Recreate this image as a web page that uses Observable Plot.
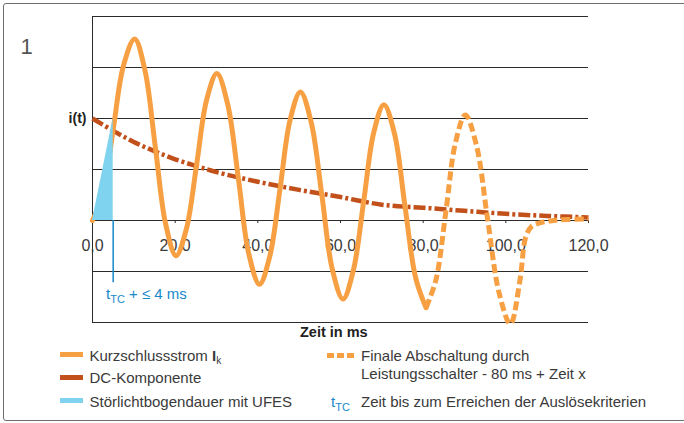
<!DOCTYPE html>
<html><head><meta charset="utf-8">
<script src="https://cdn.jsdelivr.net/npm/d3@7"></script>
<script src="https://cdn.jsdelivr.net/npm/@observablehq/plot@0.6"></script>
<style>
html,body{margin:0;padding:0;background:#fff;overflow:hidden;}
#wrap{position:relative;width:684px;height:423px;overflow:hidden;font-family:"Liberation Sans",Arial,sans-serif;color:#3a3a3a;}
#frame{position:absolute;left:3px;top:3px;width:760px;height:418px;border:1px solid #6e6e6e;border-radius:3px;box-sizing:border-box;}
#chart{position:absolute;left:0;top:0;}
.t{position:absolute;white-space:nowrap;line-height:1;font-size:15px;}
.sub{font-size:10px;position:relative;top:3px;}
.sub2{font-size:11px;position:relative;top:4px;}
.sw{position:absolute;height:5px;width:23px;left:60px;}
</style></head><body>
<div id="wrap">
<div id="frame"></div>
<div id="chart"></div>
<div class="t" style="left:20.6px;top:36.4px;font-size:22px;color:#555">1</div>
<div class="t" style="left:106px;top:286.3px;color:#1788cc">t<span class="sub2">TC</span> + ≤ 4 ms</div>
<div class="t" style="left:300px;top:325.4px;font-size:14.5px;font-weight:bold;color:#222">Zeit in ms</div>
<div class="sw" style="top:351.8px;background:#f7a043"></div>
<div class="sw" style="top:374.8px;background:#c2501a"></div>
<div class="sw" style="top:398.2px;background:#7fd3ee"></div>
<div class="t" style="left:89.5px;top:348px">Kurzschlussstrom <b>I</b><span class="sub">k</span></div>
<div class="t" style="left:89.5px;top:370.3px">DC-Komponente</div>
<div class="t" style="left:89.5px;top:393.6px">Störlichtbogendauer mit UFES</div>
<div style="position:absolute;left:327px;top:352.5px;width:27px;height:5px;background:repeating-linear-gradient(to right,#f7a043 0 7px,transparent 7px 10px)"></div>
<div class="t" style="left:361px;top:348px">Finale Abschaltung durch</div>
<div class="t" style="left:361px;top:365.6px">Leistungsschalter - 80 ms + Zeit x</div>
<div class="t" style="left:331px;top:393.6px;color:#1788cc">t<span class="sub2">TC</span></div>
<div class="t" style="left:361px;top:393.6px">Zeit bis zum Erreichen der Auslösekriterien</div>
</div>
<script>
const xTicks = [0, 20, 40, 60, 80, 100, 120];
const xTickLabels = ["0,0", "20,0", "40,0", "60,0", "80,0", "100,0", "120,0"];
const yGrid = [-2, -1, 1, 2, 3, 4];

// Kurzschlussstrom (solid, 0–80.7 ms)
const currentT = [0, 2.5, 5, 7.5, 10.2, 12.7, 15.2, 17.7, 20.2, 22.7, 25.2, 27.6, 30.1, 32.7, 35.3, 37.8, 40.4, 42.9, 45.4, 47.8, 50.3, 52.9, 55.5, 58.0, 60.6, 63.1, 65.6, 68.0, 70.5, 73.1, 75.6, 78.2, 80.7];
const currentV = [0, 0.52, 1.78, 3.04, 3.56, 2.94, 1.44, -0.07, -0.69, -0.17, 1.10, 2.36, 2.88, 2.28, 0.82, -0.65, -1.25, -0.70, 0.64, 1.97, 2.52, 1.93, 0.49, -0.95, -1.54, -0.98, 0.37, 1.71, 2.27, 1.69, 0.28, -1.13, -1.71];

// Finale Abschaltung (dashed, 80.7–120 ms)
const finalT = [80.7, 83.1, 85.5, 87.8, 90.2, 92.9, 95.6, 98.4, 101.1, 103.4, 104.8, 106.2, 108.5, 111.5, 115, 120];
const finalV = [-1.71, -1.16, 0.18, 1.52, 2.07, 1.47, 0.02, -1.43, -2.03, -1.18, -0.33, -0.12, -0.04, 0.0, 0.02, 0.03];

// DC-Komponente
const dcT = [0, 5, 10, 15, 20, 25, 30, 40, 50, 60, 70, 80, 90, 100, 110, 120];
const dcV = [2.0, 1.76, 1.54, 1.36, 1.2, 1.07, 0.95, 0.76, 0.6, 0.46, 0.31, 0.25, 0.19, 0.13, 0.09, 0.06];

// Störlichtbogendauer mit UFES
const arcT = [0, 5];
const arcV = [0, 2];
const tripT = [5];
const tripDrop = -1.22;

const rows = (T, V) => T.map((t, i) => ({t, v: V[i]}));
const current = rows(currentT, currentV);
const finalCut = rows(finalT, finalV);
const dc = rows(dcT, dcV);
const arc = rows(arcT, arcV);

const gridColor = "#2b2b2b";
const plot = Plot.plot({
  width: 684, height: 340,
  marginLeft: 92, marginRight: 96, marginTop: 16, marginBottom: 18,
  x: {domain: [0, 120], axis: null},
  y: {domain: [-2, 4], axis: null},
  style: {fontFamily: "Liberation Sans, Arial, sans-serif", background: "transparent", overflow: "visible"},
  marks: [
    Plot.ruleY(yGrid, {y: d => d, stroke: gridColor, strokeWidth: 1}),
    Plot.ruleY([0], {y: d => d, stroke: gridColor, strokeWidth: 1}),
    Plot.ruleX([0], {x: d => d, stroke: gridColor, strokeWidth: 1}),
    Plot.ruleX(xTicks, {x: d => d, y1: () => 0, y2: () => -0.06, stroke: gridColor}),
    Plot.text(xTicks, {x: d => d, y: () => 0, text: (d, i) => xTickLabels[i], dy: 25, fontSize: 16, fill: "#3a3a3a"}),
    Plot.text(["i(t)"], {x: () => 0, y: () => dcV[0], text: d => d, textAnchor: "end", dx: -6, fontSize: 14, fontWeight: "bold", fill: "#222"}),
    Plot.line(dc, {x: "t", y: "v", stroke: "#c2501a", strokeWidth: 4.5, strokeDasharray: "12,3,3,3", strokeLinecap: "butt", curve: "catmull-rom"}),
    Plot.line(current, {x: "t", y: "v", stroke: "#f7a043", strokeWidth: 5, curve: "catmull-rom"}),
    Plot.line(finalCut, {x: "t", y: "v", stroke: "#f7a043", strokeWidth: 5, strokeDasharray: "9,4", strokeLinecap: "butt", curve: "catmull-rom"}),
    Plot.areaY(arc, {x: "t", y: "v", fill: "#7fd3ee"}),
    Plot.ruleX(tripT, {x: d => d, y1: () => 0, y2: () => tripDrop, stroke: "#1788cc", strokeWidth: 1.5})
  ]
});
document.getElementById("chart").appendChild(plot);
</script>
</body></html>
